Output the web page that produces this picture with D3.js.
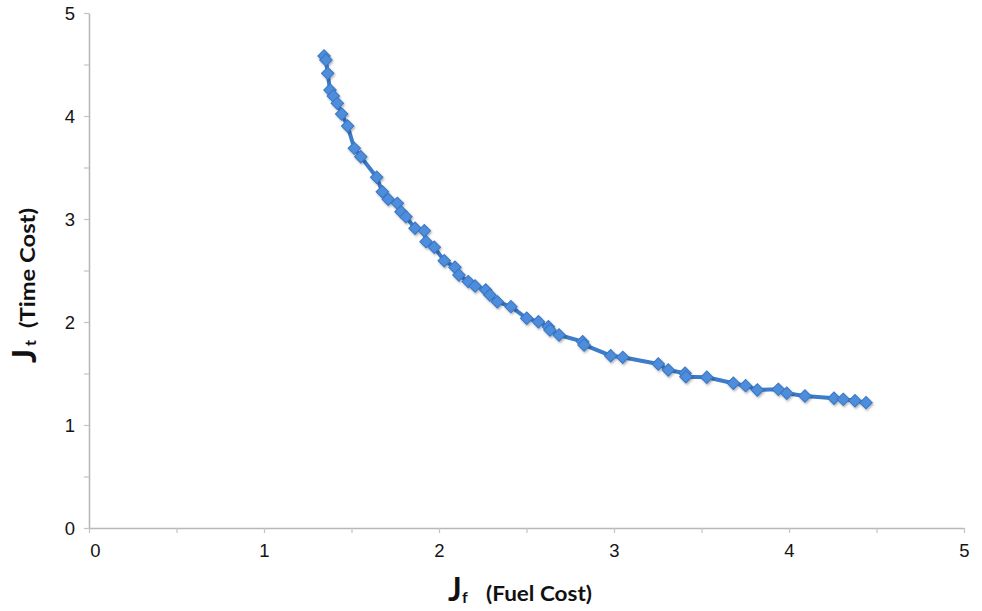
<!DOCTYPE html>
<html>
<head>
<meta charset="utf-8">
<script src="https://cdn.jsdelivr.net/npm/d3@7"></script>
<style>
  html, body { margin: 0; padding: 0; background: #fff; }
  svg { display: block; }
  .tick text { font-family: "Liberation Sans", Arial, sans-serif; font-size: 18.5px; fill: #151515; }
  .title { font-family: Lato, "Open Sans", sans-serif; font-weight: 700; fill: #111; }
</style>
</head>
<body>
<svg id="chart" width="982" height="611"></svg>
<script>
// Pareto front: fuel cost J_f against time cost J_t
const fuelCost = [
  1.343, 1.354, 1.364, 1.377, 1.396, 1.419, 1.444, 1.478, 1.516, 1.553,
  1.644, 1.676, 1.710, 1.762, 1.783, 1.811, 1.863, 1.916, 1.926, 1.973,
  2.030, 2.091, 2.114, 2.167, 2.206, 2.267, 2.291, 2.333, 2.411, 2.501,
  2.568, 2.625, 2.634, 2.686, 2.821, 2.829, 2.981, 3.050, 3.253, 3.310,
  3.406, 3.411, 3.530, 3.682, 3.752, 3.819, 3.939, 3.987, 4.091, 4.257,
  4.310, 4.377, 4.440
];
const timeCost = [
  4.583, 4.544, 4.414, 4.252, 4.194, 4.123, 4.019, 3.903, 3.686, 3.605,
  3.405, 3.265, 3.191, 3.152, 3.071, 3.022, 2.910, 2.886, 2.780, 2.725,
  2.595, 2.531, 2.456, 2.392, 2.350, 2.311, 2.262, 2.197, 2.149, 2.036,
  2.003, 1.954, 1.922, 1.874, 1.809, 1.777, 1.673, 1.657, 1.592, 1.534,
  1.502, 1.469, 1.463, 1.405, 1.382, 1.340, 1.346, 1.308, 1.282, 1.259,
  1.249, 1.236, 1.217
];
const xTicks = [0, 0.5, 1, 1.5, 2, 2.5, 3, 3.5, 4, 4.5, 5];
const yTicks = [0, 0.5, 1, 1.5, 2, 2.5, 3, 3.5, 4, 4.5, 5];
const xTitle = { main: "J", sub: "f", rest: "(Fuel Cost)" };
const yTitle = { main: "J", sub: "t", rest: "(Time Cost)" };

const points = fuelCost.map((f, i) => ({ x: f, y: timeCost[i] }));

const svg = d3.select("#chart");
const x = d3.scaleLinear().domain([0, 5]).range([89, 964]);
const y = d3.scaleLinear().domain([0, 5]).range([528, 13]);

const labelFmt = d => Number.isInteger(d) ? String(d) : "";

// Axes with half-unit minor ticks, labels on integers only
const gx = svg.append("g")
  .attr("transform", `translate(0,${y(0)})`)
  .call(d3.axisBottom(x).tickValues(xTicks).tickFormat(labelFmt).tickSize(5).tickSizeOuter(0).tickPadding(6));
const gy = svg.append("g")
  .attr("transform", `translate(${x(0)},0)`)
  .call(d3.axisLeft(y).tickValues(yTicks).tickFormat(labelFmt).tickSize(5).tickSizeOuter(0).tickPadding(9));

[gx, gy].forEach(g => {
  g.select(".domain").attr("stroke", "#b8b8b8").attr("stroke-width", 1.6);
  g.selectAll(".tick line").attr("stroke", "#c4c4c4").attr("stroke-width", 1.2);
});
gx.selectAll(".tick text").attr("dy", "0.95em");
gx.selectAll(".tick").filter(d => d === 0).select("text").attr("dx", 6);
gy.selectAll(".tick text").attr("dy", "0.36em");

// Soft drop shadow under the markers
const defs = svg.append("defs");
const sh = defs.append("filter").attr("id", "shadow")
  .attr("x", "-50%").attr("y", "-50%").attr("width", "200%").attr("height", "200%");
sh.append("feDropShadow").attr("dx", 1).attr("dy", 1.5).attr("stdDeviation", 1.1)
  .attr("flood-color", "#000").attr("flood-opacity", 0.3);

// Connecting line
svg.append("path")
  .datum(points)
  .attr("fill", "none")
  .attr("stroke", "#3d7cc9")
  .attr("stroke-width", 4)
  .attr("stroke-linejoin", "round")
  .attr("d", d3.line().x(d => x(d.x)).y(d => y(d.y)));

// Diamond markers
const diamond = d3.symbol().type(d3.symbolSquare).size(78);
svg.append("g")
  .attr("filter", "url(#shadow)")
  .selectAll("path")
  .data(points)
  .join("path")
  .attr("d", diamond)
  .attr("transform", d => `translate(${x(d.x)},${y(d.y)}) rotate(45)`)
  .attr("fill", "#4d8ddb")
  .attr("stroke", "#3a76c2")
  .attr("stroke-width", 1);

// X axis title
const xt = svg.append("g").attr("class", "title");
xt.append("text").attr("x", 448).attr("y", 601).attr("font-size", 32).text(xTitle.main);
xt.append("text").attr("x", 462).attr("y", 603).attr("font-size", 16).text(xTitle.sub);
xt.append("text").attr("x", 486).attr("y", 601).attr("font-size", 20)
  .attr("textLength", 106).attr("lengthAdjust", "spacingAndGlyphs").text(xTitle.rest);

// Y axis title (rotated)
const yt = svg.append("g").attr("class", "title").attr("transform", "rotate(-90)");
yt.append("text").attr("x", -363).attr("y", 36).attr("font-size", 33).text(yTitle.main);
yt.append("text").attr("x", -346).attr("y", 36).attr("font-size", 16).text(yTitle.sub);
yt.append("text").attr("x", -328).attr("y", 35).attr("font-size", 21)
  .attr("textLength", 120).attr("lengthAdjust", "spacingAndGlyphs").text(yTitle.rest);
</script>
</body>
</html>
